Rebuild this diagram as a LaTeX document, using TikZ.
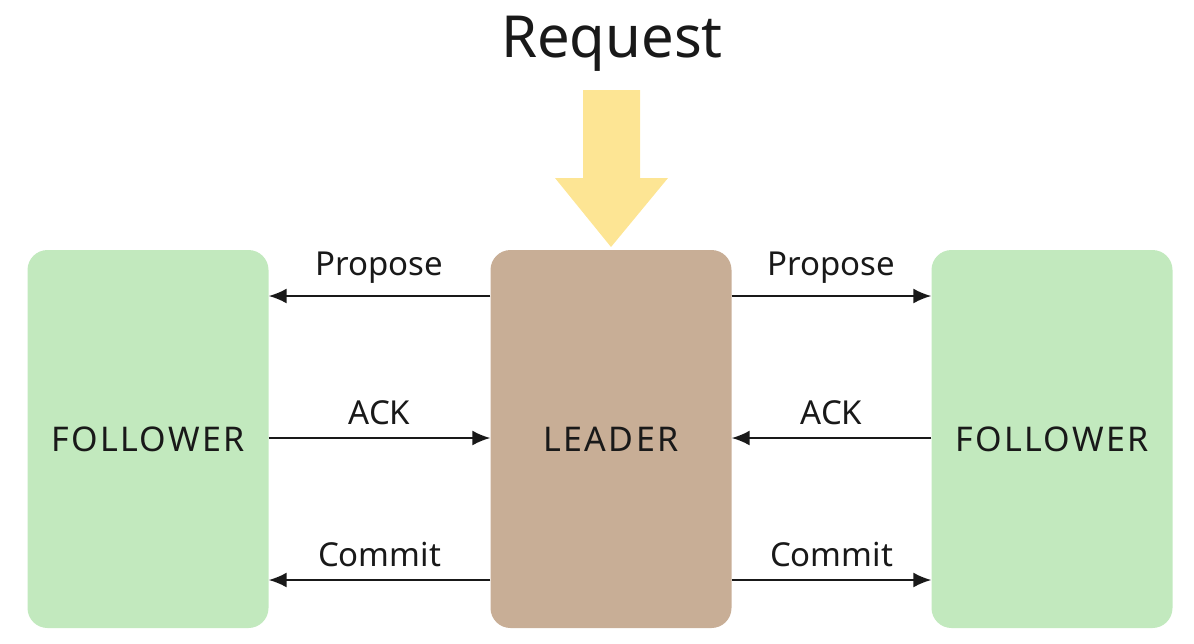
\documentclass[tikz,border=0pt]{standalone}
\usepackage{fontspec}
\setmainfont{Noto Sans}
\newfontfamily\spacedfont[LetterSpace=7]{Noto Sans}
\usetikzlibrary{arrows.meta}
\definecolor{verde}{HTML}{C2E9BE}
\definecolor{marron}{HTML}{C8AE96}
\definecolor{amarillo}{HTML}{FDE594}
\begin{document}
\begin{tikzpicture}[
        x=1pt, y=-1pt,
        seguidor/.style={rectangle, fill=verde, rounded corners=20pt, minimum width=241pt, minimum height=378pt, font=\spacedfont\fontsize{34}{40}\selectfont, text=black!90},
        lider/.style={seguidor, fill=marron},
        etiqueta/.style={font=\fontsize{33}{38}\selectfont, text=black!90, inner sep=0pt},
        flecha/.style={-{Latex[length=18pt, width=15pt]}, line width=2pt, black!90}
    ]
        \useasboundingbox (0,0) rectangle (1194,643);
        \node[seguidor] (izq) at (148,439) {FOLLOWER};
        \node[lider] (leader) at (611,439) {LEADER};
        \node[seguidor] (der) at (1052,439) {FOLLOWER};
        \node[font=\fontsize{58}{66}\selectfont, text=black!90] (req) at (612,44) {Request};

        % flecha amarilla
        \fill[amarillo] (583,90) -- (640,90) -- (640,178) -- (668,178) -- (611,247) -- (555,178) -- (583,178) -- cycle;

        % izquierda
        \draw[flecha] (leader.west |- 0,296) -- node[etiqueta, above=12pt] {Propose} (izq.east |- 0,296);
        \draw[flecha] (izq.east |- 0,438) -- node[etiqueta, above=12pt] {ACK} (leader.west |- 0,438);
        \draw[flecha] (leader.west |- 0,580) -- node[etiqueta, above=12pt] {Commit} (izq.east |- 0,580);
        % derecha
        \draw[flecha] (leader.east |- 0,296) -- node[etiqueta, above=12pt] {Propose} (der.west |- 0,296);
        \draw[flecha] (der.west |- 0,438) -- node[etiqueta, above=12pt] {ACK} (leader.east |- 0,438);
        \draw[flecha] (leader.east |- 0,580) -- node[etiqueta, above=12pt] {Commit} (der.west |- 0,580);
    \end{tikzpicture}
\end{document}
